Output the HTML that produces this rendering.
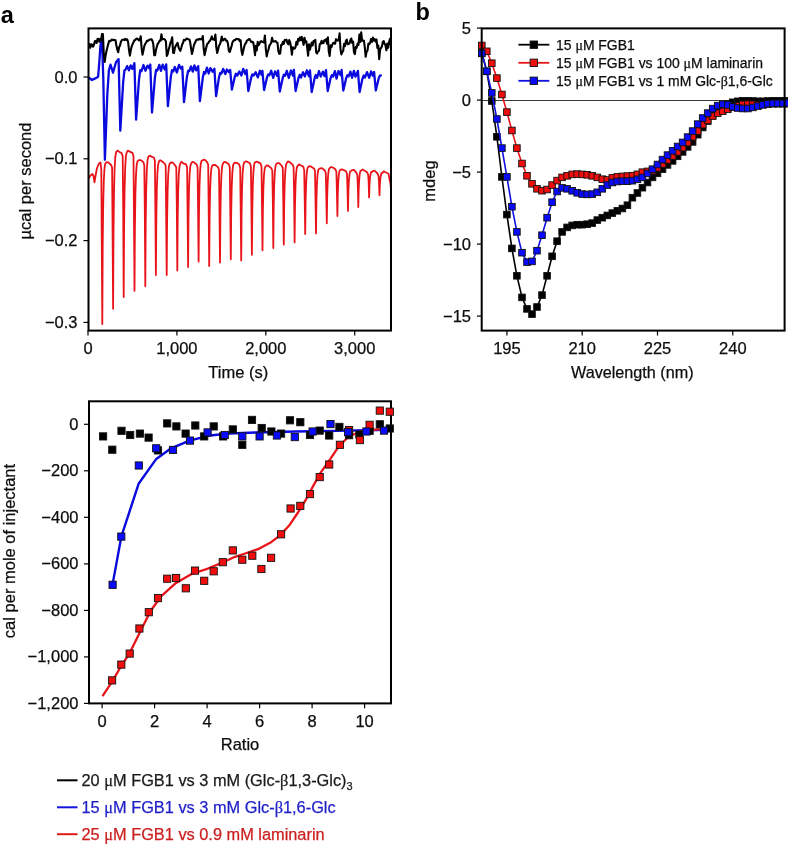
<!DOCTYPE html><html><head><meta charset="utf-8"><style>html,body{margin:0;padding:0;background:#fff;width:788px;height:844px;overflow:hidden}svg{display:block;will-change:transform;filter:blur(0.35px)}text{font-family:"Liberation Sans", sans-serif;fill:#0d0d0d;stroke:#0d0d0d;stroke-width:0.25px}</style></head><body>
<svg width="788" height="844" viewBox="0 0 788 844">
<rect width="788" height="844" fill="#fff"/>
<text x="0.8" y="22.6" font-size="23.5" font-weight="bold" style="fill:#000;stroke:none">a</text>
<text x="415.6" y="19.9" font-size="23.5" font-weight="bold" style="fill:#000;stroke:none">b</text>
<defs><clipPath id="ca"><rect x="88" y="28" width="303.5" height="303"/></clipPath></defs>
<g clip-path="url(#ca)" fill="none" stroke-linejoin="round" stroke-linecap="round">
<polyline points="88.5,178.5 90.5,175.5 92.5,174 93.5,176 94.5,182.3 95.5,176 97,168 99,163.5 100.5,162.5 101.3,170 102.3,324 102.7,246.5 103.2,204.5 103.8,180.3 104.5,168.2 105.3,163.5 106.6,162.1 108.3,162.4 111.1,165 112.1,167.5 112.5,221 113.1,308.8 113.5,233.2 114,192.2 114.6,168.6 115.3,156.8 116.1,152.3 117.4,150.6 119.1,151.7 121.7,153.3 122.7,156.3 123.2,209.6 123.7,297 124.1,227.1 124.6,189.2 125.2,167.3 125.9,156.4 126.7,152.3 128,150.6 129.7,151.7 132.5,152.9 133.5,156.3 133.9,207.1 134.5,290.8 134.9,228.2 135.4,194.2 136,174.7 136.7,164.9 137.5,161.3 138.8,160.1 140.5,160.1 143.3,161.9 144.3,165.3 144.8,210.7 145.3,286.3 145.7,223.7 146.2,189.7 146.8,170.2 147.5,160.4 148.3,156.8 149.6,155.6 151.3,156.6 153.9,157.5 154.9,160.8 155.3,203.5 155.9,275 156.3,220.1 156.8,190.4 157.4,173.3 158.1,164.7 158.9,161.7 160.2,160.2 161.9,161.2 164.7,163.6 165.7,165.7 166.1,206.4 166.7,275 167.1,221 167.6,191.8 168.2,174.9 168.9,166.4 169.7,163.5 171,162.5 172.7,162.7 175.3,165.5 176.3,167.5 176.8,205.7 177.3,270.5 177.7,218.7 178.2,190.6 178.8,174.4 179.5,166.3 180.3,163.5 181.6,161.8 183.3,163.3 186.1,164.4 187.1,167.5 187.5,204.3 188.1,267.1 188.5,216.9 189,189.7 189.6,174 190.3,166.2 191.1,163.5 192.4,161.9 194.1,162.4 196.6,164.5 197.6,167.5 198,202.1 198.6,261.5 199,212.7 199.5,186.2 200.1,171 200.8,163.4 201.6,160.8 202.9,160.1 204.6,159.7 207.2,162.2 208.2,164.8 208.6,202.3 209.2,266 209.6,217.4 210.1,191.1 210.7,175.9 211.4,168.3 212.2,165.8 213.5,164.8 215.2,165 218,167.1 219,169.8 219.4,203.9 220,262.6 220.4,214.6 220.9,188.5 221.5,173.5 222.2,166 223,163.5 224.3,161.8 226,162.3 228.8,164.3 229.8,167.5 230.2,201.2 230.8,259.3 231.2,212.8 231.7,187.7 232.3,173.1 233,165.9 233.8,163.5 235.1,162.6 236.8,162.8 239.2,164.5 240.2,167.5 240.6,201.7 241.2,260.4 241.6,212.9 242.1,187.1 242.7,172.3 243.4,164.9 244.2,162.4 245.5,161.4 247.2,161.7 249.9,163.3 250.9,166.4 251.3,198.8 251.9,254.8 252.3,210 252.8,185.8 253.4,171.8 254.1,164.8 254.9,162.5 256.2,161.7 257.9,162.1 260.5,163.4 261.5,166.5 261.9,197 262.5,250.3 262.9,209.6 263.4,187.5 264,174.8 264.7,168.5 265.5,166.5 266.8,165.4 268.5,165.9 271.3,168.3 272.3,170.5 272.8,198.5 273.3,248 273.7,207.2 274.2,185.1 274.8,172.3 275.5,166 276.3,164 277.6,163.1 279.3,163.1 281.8,166 282.8,168 283.2,195.6 283.8,244.6 284.2,205 284.7,183.5 285.3,171.1 286,164.9 286.8,163 288.1,161.4 289.8,162.2 292.6,164.6 293.6,167 294.1,194.2 294.6,242.4 295,205.2 295.5,185.1 296.1,173.5 296.8,167.7 297.6,166 298.9,164.4 300.6,165.3 303.2,166.6 304.2,170 304.6,192.6 305.2,234.1 305.6,201.4 306.1,183.7 306.7,173.5 307.4,168.4 308.2,167 309.5,166.1 311.2,166.7 314,168.4 315,171 315.4,193 316,233.4 316.4,202 316.9,185 317.5,175.2 318.2,170.3 319,169 320.3,168.3 322,168.1 324.8,170.5 325.8,173 326.2,190.1 326.8,223.3 327.2,196.3 327.7,181.6 328.3,173.2 329,169 329.8,168 331.1,167 332.8,167.5 335.4,169.2 336.4,172 336.8,186.6 337.4,216.1 337.8,193.5 338.3,181.2 338.9,174.2 339.6,170.6 340.4,170 341.7,169.3 343.4,169.9 346,171.2 347,174 347.4,185.8 348,210.9 348.4,191.3 348.9,180.6 349.5,174.5 350.2,171.4 351,171 352.3,170.1 354,169.8 356.3,172.6 357.3,175 357.8,184.8 358.3,207.1 358.7,189.1 359.2,179.3 359.8,173.6 360.5,170.8 361.3,170.5 362.6,169.5 364.3,170.5 367.1,172.2 368.1,174.5 368.6,180.7 369.1,197.4 369.5,184.7 370,177.9 370.6,173.9 371.3,171.9 372.1,172 373.4,170.6 375.1,171.2 377.5,173.5 378.5,176 378.9,180.6 379.5,195.1 379.9,184 380.4,178 381,174.5 381.7,172.8 382.5,173 383.8,171.2 385.5,172.3 388.5,173.8 390.5,184 391,190" stroke="#e8141a" stroke-width="1.8"/>
<polyline points="88.5,77.4 90,78.5 92,80 95.2,78.4 98.1,76.8 99.3,62.3 100.4,46.1 101.2,41.5 102,40.5 103.3,78.4 104.9,159.8 107.3,94.5 108.9,70.3 110.5,64.7 113,72.7 116,62.3 118.6,59.1 120.3,130.6 121.8,105.6 123.2,81.8 124.4,70.5 125.6,69.6 127.2,66.1 128.9,70.4 130.7,65.4 132.4,68.9 134.4,63.2 136.1,119.6 137.6,99 139,79.4 140.2,70.1 141.4,71.3 143.5,65 145.4,70.7 147.5,65.6 149.2,68.2 150.3,64.5 152,112.5 153.5,94.7 154.9,77.8 156.1,69.8 157.3,70.5 159.3,64.9 160.9,70.8 162.7,64.7 164.8,69.5 166.2,64.3 167.9,106.2 169.4,91.1 170.8,76.9 172,70.1 173.2,71.5 174.8,67 176.9,72.5 179,64.8 180.8,68.6 182.3,66.6 184,102.2 185.5,89.2 186.9,76.9 188.1,71 189.3,71.2 191,66.4 192.8,71.6 194.4,65.4 196.1,70.4 198.2,66.1 199.9,101.1 201.4,89 202.8,77.5 204,72 205.2,73.6 206.9,67.7 208.7,73.5 210.4,68.2 212.6,71.7 214.4,68.8 216.1,96.1 217.6,86.4 219,77.3 220.2,72.9 221.4,73.5 223.2,68.9 225.3,74.1 226.9,69.5 228.8,72.1 230.2,70 231.9,89.6 233.4,83 234.8,76.7 236,73.7 237.2,75.6 239.4,71.4 241.4,75.5 243.2,68.8 245.3,74.1 246.6,70 248.3,91 249.8,84.1 251.2,77.5 252.4,74.4 253.6,75.5 255.7,72.3 257.8,77.4 259.9,70.8 261.6,74.7 262.4,70.8 264.1,90 265.6,83.5 267,77.4 268.2,74.5 269.4,75.2 271.2,70.8 273.2,77.9 275.1,71.4 277.2,75.9 278.1,70.6 279.8,91.5 281.3,84.5 282.7,77.9 283.9,74.7 285.1,75.8 286.8,70.8 288.8,78 290.9,70.5 292.9,75.7 293.9,69.8 295.6,91 297.1,84.3 298.5,77.9 299.7,74.8 300.9,77.6 303,72.3 304.9,76.4 306.9,70.3 309,76.3 310,70.5 311.7,92 313.2,84.9 314.6,78.2 315.8,75 317,77.9 319,71 320.7,76.5 322.9,71.6 324.5,76.1 326,70.2 327.7,91 329.2,84.4 330.6,78.1 331.8,75.1 333,76.6 334.9,71.1 336.5,78.6 338.5,71 340.7,75.3 341.6,70 343.3,90.5 344.8,84.2 346.2,78.1 347.4,75.3 348.6,76.4 350.4,71.6 352.1,77.8 353.9,70.9 355.5,76.6 357.9,70.9 359.6,92 361.1,85.1 362.5,78.6 363.7,75.5 364.9,77.5 367,72.1 369.2,77.8 371.1,71.4 372.7,75.7 374.1,72 375.8,90.5 377.3,84.3 378.7,78.4 379.9,75.6 380.8,75.5" stroke="#0a0adf" stroke-width="2.3"/>
<polyline points="88.5,44.7 89.4,44 90.3,47.7 91.2,44.2 92.1,44.6 93,46.7 93.9,45.1 94.8,41.2 95.7,40.9 96.6,43 97.5,39 98.4,38.9 99.3,41.8 100.2,38.9 101.1,40.4 102,34 102.9,34 103.8,54.1 104.7,61.9 105.6,55.5 106.5,50.9 107.4,47.2 108.3,43.9 109.2,40.8 110.1,41.3 111,40.7 111.9,39.5 112.8,40.2 113.7,39.7 114.6,39.9 115.5,40.3 116.4,45.5 117.3,49.6 118.2,52.2 119.1,47.2 120,45.5 120.9,41.8 121.8,40.2 122.7,39.7 123.6,39.5 124.5,40.1 125.4,38.9 126.3,40 127.2,39.4 128.1,42 129,49.8 129.9,55.6 130.8,50.2 131.7,46.3 132.6,44.1 133.5,42.2 134.4,40.3 135.3,40 136.2,38.8 137.1,38.5 138,39.2 138.9,40.4 139.8,40.3 140.7,36.2 141.6,48.2 142.5,54.7 143.4,50.6 144.3,46.2 145.2,43.9 146.1,42.7 147,40.7 147.9,40.9 148.8,40.2 149.7,39.7 150.6,39.3 151.5,39.2 152.4,40.8 153.3,44.2 154.2,55.1 155.1,55.2 156,49.8 156.9,46.4 157.8,43.6 158.7,42.7 159.6,40.6 160.5,40.8 161.4,34.3 162.3,39.4 163.2,39 164.1,39 165,39.6 165.9,41.5 166.8,55.9 167.7,54 168.6,49.8 169.5,46.6 170.4,42.9 171.3,40.8 172.2,37.2 173.1,52.7 174,52.9 174.9,47.9 175.8,45.7 176.7,44.4 177.6,42.9 178.5,47.2 179.4,49.3 180.3,50.8 181.2,48.1 182.1,44.7 183,42.7 183.9,39.9 184.8,40.5 185.7,39.6 186.6,38.5 187.5,38.9 188.4,39.2 189.3,39.4 190.2,42.3 191.1,48.9 192,54 192.9,50.1 193.8,45.6 194.7,43.3 195.6,41.5 196.5,39.7 197.4,39.4 198.3,39.8 199.2,38.9 200.1,39.4 201,38.9 201.9,39.5 202.8,36.1 203.7,48.7 204.6,55.1 205.5,50.7 206.4,46.9 207.3,43.8 208.2,43.2 209.1,41.5 210,40.8 210.9,39 211.8,36.4 212.7,39.5 213.6,39.3 214.5,39.8 215.4,34.5 216.3,47.3 217.2,53 218.1,49.8 219,45.6 219.9,44.4 220.8,41.4 221.7,36.6 222.6,40.5 223.5,40.3 224.4,38.9 225.3,38.9 226.2,40.7 227.1,40.8 228,43.9 228.9,51 229.8,51.9 230.7,48.9 231.6,46 232.5,42.3 233.4,40.8 234.3,40.1 235.2,40.2 236.1,38.9 237,39 237.9,39.3 238.8,39.1 239.7,41 240.6,40.2 241.5,50.7 242.4,54.9 243.3,50.6 244.2,46.7 245.1,44 246,43 246.9,40.7 247.8,40.1 248.7,39.3 249.6,39 250.5,40.8 251.4,42.1 252.3,41.7 253.2,42.3 254.1,47.3 255,55.2 255.9,45.9 256.8,50.5 257.7,41.9 258.6,45.3 259.5,43.7 260.4,41.6 261.3,41 262.2,41.9 263.1,42.1 264,42.5 264.9,35.5 265.8,48.8 266.7,56.5 267.6,52.1 268.5,49.5 269.4,45.6 270.3,44.3 271.2,42.7 272.1,37.7 273,41.4 273.9,41.6 274.8,41.3 275.7,41.1 276.6,42.3 277.5,42.9 278.4,51.5 279.3,53.9 280.2,53.5 281.1,45 282,44.9 282.9,41.8 283.8,43.9 284.7,40 285.6,40.3 286.5,39.7 287.4,42.9 288.3,44.3 289.2,40.1 290.1,41.9 291,47.2 291.9,54.6 292.8,47.2 293.7,48.5 294.6,48.6 295.5,47.2 296.4,41.8 297.3,44.6 298.2,38.7 299.1,40.6 300,37.4 300.9,40.3 301.8,36.9 302.7,40.7 303.6,44.9 304.5,37.7 305.4,42.1 306.3,41.3 307.2,47.3 308.1,55.6 309,44.2 309.9,49.7 310.8,46.4 311.7,42.5 312.6,45.5 313.5,41 314.4,41.4 315.3,39.8 316.2,52.4 317.1,53.5 318,51.4 318.9,50.9 319.8,44.1 320.7,43.8 321.6,40.7 322.5,43.3 323.4,43.1 324.3,40.3 325.2,40.6 326.1,39.2 327,43.6 327.9,37.2 328.8,51.8 329.7,56 330.6,45.2 331.5,47.1 332.4,44.5 333.3,42.8 334.2,43.3 335.1,43.7 336,39.1 336.9,40.1 337.8,40.7 338.7,39.9 339.6,33.2 340.5,49.1 341.4,54.4 342.3,52.3 343.2,50.7 344.1,43.7 345,46.1 345.9,40.9 346.8,39.7 347.7,44.3 348.6,43.9 349.5,43.5 350.4,40 351.3,38.5 352.2,42.9 353.1,41.6 354,52.3 354.9,54.1 355.8,46.8 356.7,47.8 357.6,43.5 358.5,44.9 359.4,34.5 360.3,41.9 361.2,32.4 362.1,40.8 363,40.4 363.9,40.7 364.8,47.4 365.7,56.8 366.6,51.5 367.5,50.7 368.4,43.6 369.3,44.1 370.2,42.6 371.1,38.9 372,41.9 372.9,37.6 373.8,40.4 374.7,39.1 375.6,41.6 376.5,39.5 377.4,47.9 378.3,45.5 379.2,59.2 380.1,49.6 381,47.9 381.9,46.6 382.8,41.9 383.7,41 384.6,43.9 385.5,45.2 386.4,50.3 387.3,43.6 388.2,47.8 389.1,42.3 390,38.7 390.5,44" stroke="#000" stroke-width="2.1"/>
</g>
<rect x="88.5" y="28.4" width="302.5" height="302.20000000000005" fill="none" stroke="#000" stroke-width="2"/>
<line x1="83.5" x2="88.5" y1="77" y2="77" stroke="#000" stroke-width="1.2"/>
<text x="77.5" y="82.5" font-size="16.5" text-anchor="end">0.0</text>
<line x1="83.5" x2="88.5" y1="158.8" y2="158.8" stroke="#000" stroke-width="1.2"/>
<text x="77.5" y="164.3" font-size="16.5" text-anchor="end">−0.1</text>
<line x1="83.5" x2="88.5" y1="240.6" y2="240.6" stroke="#000" stroke-width="1.2"/>
<text x="77.5" y="246.1" font-size="16.5" text-anchor="end">−0.2</text>
<line x1="83.5" x2="88.5" y1="322.4" y2="322.4" stroke="#000" stroke-width="1.2"/>
<text x="77.5" y="327.9" font-size="16.5" text-anchor="end">−0.3</text>
<line x1="88" x2="88" y1="330.6" y2="335.5" stroke="#000" stroke-width="1.2"/>
<text x="88" y="353.5" font-size="16.5" text-anchor="middle">0</text>
<line x1="176.9" x2="176.9" y1="330.6" y2="335.5" stroke="#000" stroke-width="1.2"/>
<text x="176.9" y="353.5" font-size="16.5" text-anchor="middle">1,000</text>
<line x1="265.8" x2="265.8" y1="330.6" y2="335.5" stroke="#000" stroke-width="1.2"/>
<text x="265.8" y="353.5" font-size="16.5" text-anchor="middle">2,000</text>
<line x1="354.7" x2="354.7" y1="330.6" y2="335.5" stroke="#000" stroke-width="1.2"/>
<text x="354.7" y="353.5" font-size="16.5" text-anchor="middle">3,000</text>
<text x="238.3" y="378.4" font-size="16.5" text-anchor="middle">Time (s)</text>
<text transform="translate(31.3,181) rotate(-90)" font-size="16.5" text-anchor="middle">µcal per second</text>
<g fill="none" stroke-linejoin="round" stroke-linecap="round">
<path d="M112.5,584.9 L121.3,536.7 L138.6,483.8 L156.3,458.9 L171.1,448.3 L189.5,440.6 L209.8,435.5 L230.1,433.5 L255.3,432.5 L295.9,431.5 L336.5,430.9 L377.1,430 L391.3,429.4" stroke="#0a0adf" stroke-width="2.4"/>
<path d="M103,695.3 L112.5,681.1 L120.7,666.7 L128.9,654.4 L139.8,632.6 L150.7,610.8 L161.6,595.8 L175.2,583.6 L191.6,574 L207.9,568.6 L224.3,561.8 L235,556.8 L245.2,553.5 L259.4,548.6 L271.5,541.9 L280.7,534.8 L289.8,524.7 L298,512.5 L306.1,499.3 L314.2,484.1 L320.3,473.1 L330.4,458.9 L338.6,446.7 L348.7,436.5 L360.9,431.5 L377.1,429.4 L391.3,428.4" stroke="#e8141a" stroke-width="2.3"/>
</g>
<rect x="89.0" y="401.3" width="302.0" height="302.09999999999997" fill="none" stroke="#000" stroke-width="2"/>
<rect x="99.5" y="432.8" width="7.2" height="7.2" fill="#000" stroke="#111" stroke-width="0.9"/>
<rect x="108.7" y="446.1" width="7.2" height="7.2" fill="#000" stroke="#111" stroke-width="0.9"/>
<rect x="117.9" y="427.2" width="7.2" height="7.2" fill="#000" stroke="#111" stroke-width="0.9"/>
<rect x="126.6" y="431.4" width="7.2" height="7.2" fill="#000" stroke="#111" stroke-width="0.9"/>
<rect x="136.3" y="430" width="7.2" height="7.2" fill="#000" stroke="#111" stroke-width="0.9"/>
<rect x="145" y="434" width="7.2" height="7.2" fill="#000" stroke="#111" stroke-width="0.9"/>
<rect x="154.4" y="446.8" width="7.2" height="7.2" fill="#000" stroke="#111" stroke-width="0.9"/>
<rect x="163.6" y="419.8" width="7.2" height="7.2" fill="#000" stroke="#111" stroke-width="0.9"/>
<rect x="172.8" y="422.8" width="7.2" height="7.2" fill="#000" stroke="#111" stroke-width="0.9"/>
<rect x="182" y="430" width="7.2" height="7.2" fill="#000" stroke="#111" stroke-width="0.9"/>
<rect x="191.7" y="421.9" width="7.2" height="7.2" fill="#000" stroke="#111" stroke-width="0.9"/>
<rect x="200.6" y="432.8" width="7.2" height="7.2" fill="#000" stroke="#111" stroke-width="0.9"/>
<rect x="210.1" y="422.8" width="7.2" height="7.2" fill="#000" stroke="#111" stroke-width="0.9"/>
<rect x="219.5" y="432.8" width="7.2" height="7.2" fill="#000" stroke="#111" stroke-width="0.9"/>
<rect x="229.2" y="425.8" width="7.2" height="7.2" fill="#000" stroke="#111" stroke-width="0.9"/>
<rect x="238.7" y="441.2" width="7.2" height="7.2" fill="#000" stroke="#111" stroke-width="0.9"/>
<rect x="248.4" y="416.3" width="7.2" height="7.2" fill="#000" stroke="#111" stroke-width="0.9"/>
<rect x="258.1" y="424.4" width="7.2" height="7.2" fill="#000" stroke="#111" stroke-width="0.9"/>
<rect x="267.8" y="427.9" width="7.2" height="7.2" fill="#000" stroke="#111" stroke-width="0.9"/>
<rect x="277.5" y="430" width="7.2" height="7.2" fill="#000" stroke="#111" stroke-width="0.9"/>
<rect x="286.4" y="416.7" width="7.2" height="7.2" fill="#000" stroke="#111" stroke-width="0.9"/>
<rect x="296.7" y="418.6" width="7.2" height="7.2" fill="#000" stroke="#111" stroke-width="0.9"/>
<rect x="306.4" y="431.4" width="7.2" height="7.2" fill="#000" stroke="#111" stroke-width="0.9"/>
<rect x="316.1" y="427" width="7.2" height="7.2" fill="#000" stroke="#111" stroke-width="0.9"/>
<rect x="325.6" y="431.9" width="7.2" height="7.2" fill="#000" stroke="#111" stroke-width="0.9"/>
<rect x="335.8" y="423.3" width="7.2" height="7.2" fill="#000" stroke="#111" stroke-width="0.9"/>
<rect x="345.5" y="431.6" width="7.2" height="7.2" fill="#000" stroke="#111" stroke-width="0.9"/>
<rect x="355.8" y="430.9" width="7.2" height="7.2" fill="#000" stroke="#111" stroke-width="0.9"/>
<rect x="366" y="427.2" width="7.2" height="7.2" fill="#000" stroke="#111" stroke-width="0.9"/>
<rect x="376.2" y="420.7" width="7.2" height="7.2" fill="#000" stroke="#111" stroke-width="0.9"/>
<rect x="386.2" y="424.9" width="7.2" height="7.2" fill="#000" stroke="#111" stroke-width="0.9"/>
<rect x="108.5" y="676.8" width="7.2" height="7.2" fill="#f00d0d" stroke="#111" stroke-width="0.9"/>
<rect x="117.7" y="661" width="7.2" height="7.2" fill="#f00d0d" stroke="#111" stroke-width="0.9"/>
<rect x="126.1" y="650" width="7.2" height="7.2" fill="#f00d0d" stroke="#111" stroke-width="0.9"/>
<rect x="135.8" y="624.9" width="7.2" height="7.2" fill="#f00d0d" stroke="#111" stroke-width="0.9"/>
<rect x="145.2" y="608.6" width="7.2" height="7.2" fill="#f00d0d" stroke="#111" stroke-width="0.9"/>
<rect x="154.4" y="594.5" width="7.2" height="7.2" fill="#f00d0d" stroke="#111" stroke-width="0.9"/>
<rect x="163.6" y="575.1" width="7.2" height="7.2" fill="#f00d0d" stroke="#111" stroke-width="0.9"/>
<rect x="172.5" y="574.4" width="7.2" height="7.2" fill="#f00d0d" stroke="#111" stroke-width="0.9"/>
<rect x="182.2" y="584.7" width="7.2" height="7.2" fill="#f00d0d" stroke="#111" stroke-width="0.9"/>
<rect x="191.4" y="567" width="7.2" height="7.2" fill="#f00d0d" stroke="#111" stroke-width="0.9"/>
<rect x="200.6" y="577.2" width="7.2" height="7.2" fill="#f00d0d" stroke="#111" stroke-width="0.9"/>
<rect x="210.1" y="567.7" width="7.2" height="7.2" fill="#f00d0d" stroke="#111" stroke-width="0.9"/>
<rect x="219.2" y="558.6" width="7.2" height="7.2" fill="#f00d0d" stroke="#111" stroke-width="0.9"/>
<rect x="229.2" y="546.8" width="7.2" height="7.2" fill="#f00d0d" stroke="#111" stroke-width="0.9"/>
<rect x="238.7" y="556.1" width="7.2" height="7.2" fill="#f00d0d" stroke="#111" stroke-width="0.9"/>
<rect x="248.7" y="552.1" width="7.2" height="7.2" fill="#f00d0d" stroke="#111" stroke-width="0.9"/>
<rect x="257.8" y="565.4" width="7.2" height="7.2" fill="#f00d0d" stroke="#111" stroke-width="0.9"/>
<rect x="267.5" y="554.2" width="7.2" height="7.2" fill="#f00d0d" stroke="#111" stroke-width="0.9"/>
<rect x="277.5" y="530.7" width="7.2" height="7.2" fill="#f00d0d" stroke="#111" stroke-width="0.9"/>
<rect x="287" y="504.9" width="7.2" height="7.2" fill="#f00d0d" stroke="#111" stroke-width="0.9"/>
<rect x="296.7" y="502.3" width="7.2" height="7.2" fill="#f00d0d" stroke="#111" stroke-width="0.9"/>
<rect x="306.4" y="490.5" width="7.2" height="7.2" fill="#f00d0d" stroke="#111" stroke-width="0.9"/>
<rect x="316.1" y="473.5" width="7.2" height="7.2" fill="#f00d0d" stroke="#111" stroke-width="0.9"/>
<rect x="325.6" y="460.9" width="7.2" height="7.2" fill="#f00d0d" stroke="#111" stroke-width="0.9"/>
<rect x="336.3" y="441.2" width="7.2" height="7.2" fill="#f00d0d" stroke="#111" stroke-width="0.9"/>
<rect x="345.5" y="426.5" width="7.2" height="7.2" fill="#f00d0d" stroke="#111" stroke-width="0.9"/>
<rect x="356.3" y="436.5" width="7.2" height="7.2" fill="#f00d0d" stroke="#111" stroke-width="0.9"/>
<rect x="366" y="421.2" width="7.2" height="7.2" fill="#f00d0d" stroke="#111" stroke-width="0.9"/>
<rect x="376.2" y="407" width="7.2" height="7.2" fill="#f00d0d" stroke="#111" stroke-width="0.9"/>
<rect x="386.2" y="408.1" width="7.2" height="7.2" fill="#f00d0d" stroke="#111" stroke-width="0.9"/>
<rect x="109" y="581.2" width="7.2" height="7.2" fill="#0a0aff" stroke="#111" stroke-width="0.9"/>
<rect x="117.7" y="533" width="7.2" height="7.2" fill="#0a0aff" stroke="#111" stroke-width="0.9"/>
<rect x="135.2" y="461.9" width="7.2" height="7.2" fill="#0a0aff" stroke="#111" stroke-width="0.9"/>
<rect x="152.6" y="444.7" width="7.2" height="7.2" fill="#0a0aff" stroke="#111" stroke-width="0.9"/>
<rect x="169.4" y="446.3" width="7.2" height="7.2" fill="#0a0aff" stroke="#111" stroke-width="0.9"/>
<rect x="186.4" y="437" width="7.2" height="7.2" fill="#0a0aff" stroke="#111" stroke-width="0.9"/>
<rect x="204" y="428.8" width="7.2" height="7.2" fill="#0a0aff" stroke="#111" stroke-width="0.9"/>
<rect x="221.1" y="431.4" width="7.2" height="7.2" fill="#0a0aff" stroke="#111" stroke-width="0.9"/>
<rect x="238.7" y="432.8" width="7.2" height="7.2" fill="#0a0aff" stroke="#111" stroke-width="0.9"/>
<rect x="256" y="432.8" width="7.2" height="7.2" fill="#0a0aff" stroke="#111" stroke-width="0.9"/>
<rect x="273.3" y="431.9" width="7.2" height="7.2" fill="#0a0aff" stroke="#111" stroke-width="0.9"/>
<rect x="291.2" y="433.5" width="7.2" height="7.2" fill="#0a0aff" stroke="#111" stroke-width="0.9"/>
<rect x="309" y="427.9" width="7.2" height="7.2" fill="#0a0aff" stroke="#111" stroke-width="0.9"/>
<rect x="326.9" y="420.5" width="7.2" height="7.2" fill="#0a0aff" stroke="#111" stroke-width="0.9"/>
<rect x="344.5" y="428.6" width="7.2" height="7.2" fill="#0a0aff" stroke="#111" stroke-width="0.9"/>
<rect x="362.8" y="427.9" width="7.2" height="7.2" fill="#0a0aff" stroke="#111" stroke-width="0.9"/>
<rect x="380.4" y="427" width="7.2" height="7.2" fill="#0a0aff" stroke="#111" stroke-width="0.9"/>
<line x1="84" x2="89" y1="424.3" y2="424.3" stroke="#000" stroke-width="1.2"/>
<text x="78.5" y="429.8" font-size="16.5" text-anchor="end">0</text>
<line x1="84" x2="89" y1="470.8" y2="470.8" stroke="#000" stroke-width="1.2"/>
<text x="78.5" y="476.3" font-size="16.5" text-anchor="end">−200</text>
<line x1="84" x2="89" y1="517.3" y2="517.3" stroke="#000" stroke-width="1.2"/>
<text x="78.5" y="522.8" font-size="16.5" text-anchor="end">−400</text>
<line x1="84" x2="89" y1="563.9" y2="563.9" stroke="#000" stroke-width="1.2"/>
<text x="78.5" y="569.4" font-size="16.5" text-anchor="end">−600</text>
<line x1="84" x2="89" y1="610.4" y2="610.4" stroke="#000" stroke-width="1.2"/>
<text x="78.5" y="615.9" font-size="16.5" text-anchor="end">−800</text>
<line x1="84" x2="89" y1="656.9" y2="656.9" stroke="#000" stroke-width="1.2"/>
<text x="78.5" y="662.4" font-size="16.5" text-anchor="end">−1,000</text>
<line x1="84" x2="89" y1="703.4" y2="703.4" stroke="#000" stroke-width="1.2"/>
<text x="78.5" y="708.9" font-size="16.5" text-anchor="end">−1,200</text>
<line x1="102.1" x2="102.1" y1="703.4" y2="708.3" stroke="#000" stroke-width="1.2"/>
<text x="102.1" y="726.5" font-size="16.5" text-anchor="middle">0</text>
<line x1="154.6" x2="154.6" y1="703.4" y2="708.3" stroke="#000" stroke-width="1.2"/>
<text x="154.6" y="726.5" font-size="16.5" text-anchor="middle">2</text>
<line x1="207.1" x2="207.1" y1="703.4" y2="708.3" stroke="#000" stroke-width="1.2"/>
<text x="207.1" y="726.5" font-size="16.5" text-anchor="middle">4</text>
<line x1="259.6" x2="259.6" y1="703.4" y2="708.3" stroke="#000" stroke-width="1.2"/>
<text x="259.6" y="726.5" font-size="16.5" text-anchor="middle">6</text>
<line x1="312.1" x2="312.1" y1="703.4" y2="708.3" stroke="#000" stroke-width="1.2"/>
<text x="312.1" y="726.5" font-size="16.5" text-anchor="middle">8</text>
<line x1="364.6" x2="364.6" y1="703.4" y2="708.3" stroke="#000" stroke-width="1.2"/>
<text x="364.6" y="726.5" font-size="16.5" text-anchor="middle">10</text>
<text x="240" y="750.3" font-size="16.5" text-anchor="middle">Ratio</text>
<text transform="translate(15,551) rotate(-90)" font-size="16.5" text-anchor="middle">cal per mole of injectant</text>
<line x1="57" x2="77.5" y1="780.3" y2="780.3" stroke="#000" stroke-width="2"/>
<text x="81.5" y="785.6" font-size="16.35" style="fill:#1a1a1a;stroke:#1a1a1a">20 <tspan style="font-family:'Liberation Serif',serif">μ</tspan>M FGB1 vs 3 mM (Glc-<tspan style="font-family:'Liberation Serif',serif">β</tspan>1,3-Glc)<tspan font-size="11" dy="4">3</tspan></text>
<line x1="57" x2="77.5" y1="807.3" y2="807.3" stroke="#1515e0" stroke-width="2"/>
<text x="81.5" y="812.6" font-size="16.35" style="fill:#1f1fc8;stroke:#1f1fc8">15 <tspan style="font-family:'Liberation Serif',serif">μ</tspan>M FGB1 vs 3 mM Glc-<tspan style="font-family:'Liberation Serif',serif">β</tspan>1,6-Glc</text>
<line x1="57" x2="77.5" y1="834.2" y2="834.2" stroke="#e01a1a" stroke-width="2"/>
<text x="81.5" y="839.5" font-size="16.35" style="fill:#cc2020;stroke:#cc2020">25 <tspan style="font-family:'Liberation Serif',serif">μ</tspan>M FGB1 vs 0.9 mM laminarin</text>
<line x1="482" x2="785" y1="100.5" y2="100.5" stroke="#3a3a3a" stroke-width="1.2"/>
<defs><clipPath id="cb"><rect x="470" y="20" width="318" height="312"/></clipPath></defs>
<g clip-path="url(#cb)">
<polyline points="481.8,52.6 486.8,71.3 491.8,101 496.9,136.8 501.9,176.9 506.9,214.6 511.9,248.4 516.9,275.8 522,297.4 527,308.9 532,314.1 537,307 542,295.1 547.1,275.8 552.1,256.3 557.1,241.2 562.1,231.9 567.1,227.4 572.2,225.4 577.2,224.7 582.2,224.7 587.2,224.2 592.2,223.1 597.3,220.1 602.3,217.7 607.3,215.4 612.3,213.1 617.3,210.8 622.4,208.5 627.4,205.2 632.4,197.7 637.4,193 642.4,187.7 647.5,182.5 652.5,177.4 657.5,173.3 662.5,169.2 667.5,164.9 672.6,160.9 677.6,156.3 682.6,151.9 687.6,146.9 692.6,141.9 697.7,134.7 702.7,127.5 707.7,121 712.7,115.2 717.7,110.2 722.8,106.6 727.8,104.1 732.8,102.3 737.8,101.3 742.8,100.8 747.9,100.8 752.9,101 757.9,101.3 762.9,101.3 767.9,101 773,100.8 778,100.8 783,100.8 788,100.8" fill="none" stroke="#000" stroke-width="1.6" stroke-linejoin="round"/>
<rect x="478.5" y="49.3" width="6.6" height="6.6" fill="#000" stroke="#111" stroke-width="0.9"/>
<rect x="483.5" y="68" width="6.6" height="6.6" fill="#000" stroke="#111" stroke-width="0.9"/>
<rect x="488.5" y="97.7" width="6.6" height="6.6" fill="#000" stroke="#111" stroke-width="0.9"/>
<rect x="493.6" y="133.5" width="6.6" height="6.6" fill="#000" stroke="#111" stroke-width="0.9"/>
<rect x="498.6" y="173.6" width="6.6" height="6.6" fill="#000" stroke="#111" stroke-width="0.9"/>
<rect x="503.6" y="211.3" width="6.6" height="6.6" fill="#000" stroke="#111" stroke-width="0.9"/>
<rect x="508.6" y="245.1" width="6.6" height="6.6" fill="#000" stroke="#111" stroke-width="0.9"/>
<rect x="513.6" y="272.5" width="6.6" height="6.6" fill="#000" stroke="#111" stroke-width="0.9"/>
<rect x="518.7" y="294.1" width="6.6" height="6.6" fill="#000" stroke="#111" stroke-width="0.9"/>
<rect x="523.7" y="305.6" width="6.6" height="6.6" fill="#000" stroke="#111" stroke-width="0.9"/>
<rect x="528.7" y="310.8" width="6.6" height="6.6" fill="#000" stroke="#111" stroke-width="0.9"/>
<rect x="533.7" y="303.7" width="6.6" height="6.6" fill="#000" stroke="#111" stroke-width="0.9"/>
<rect x="538.7" y="291.8" width="6.6" height="6.6" fill="#000" stroke="#111" stroke-width="0.9"/>
<rect x="543.8" y="272.5" width="6.6" height="6.6" fill="#000" stroke="#111" stroke-width="0.9"/>
<rect x="548.8" y="253" width="6.6" height="6.6" fill="#000" stroke="#111" stroke-width="0.9"/>
<rect x="553.8" y="237.9" width="6.6" height="6.6" fill="#000" stroke="#111" stroke-width="0.9"/>
<rect x="558.8" y="228.6" width="6.6" height="6.6" fill="#000" stroke="#111" stroke-width="0.9"/>
<rect x="563.8" y="224.1" width="6.6" height="6.6" fill="#000" stroke="#111" stroke-width="0.9"/>
<rect x="568.9" y="222.1" width="6.6" height="6.6" fill="#000" stroke="#111" stroke-width="0.9"/>
<rect x="573.9" y="221.4" width="6.6" height="6.6" fill="#000" stroke="#111" stroke-width="0.9"/>
<rect x="578.9" y="221.4" width="6.6" height="6.6" fill="#000" stroke="#111" stroke-width="0.9"/>
<rect x="583.9" y="220.9" width="6.6" height="6.6" fill="#000" stroke="#111" stroke-width="0.9"/>
<rect x="588.9" y="219.8" width="6.6" height="6.6" fill="#000" stroke="#111" stroke-width="0.9"/>
<rect x="594" y="216.8" width="6.6" height="6.6" fill="#000" stroke="#111" stroke-width="0.9"/>
<rect x="599" y="214.4" width="6.6" height="6.6" fill="#000" stroke="#111" stroke-width="0.9"/>
<rect x="604" y="212.1" width="6.6" height="6.6" fill="#000" stroke="#111" stroke-width="0.9"/>
<rect x="609" y="209.8" width="6.6" height="6.6" fill="#000" stroke="#111" stroke-width="0.9"/>
<rect x="614" y="207.5" width="6.6" height="6.6" fill="#000" stroke="#111" stroke-width="0.9"/>
<rect x="619.1" y="205.2" width="6.6" height="6.6" fill="#000" stroke="#111" stroke-width="0.9"/>
<rect x="624.1" y="201.9" width="6.6" height="6.6" fill="#000" stroke="#111" stroke-width="0.9"/>
<rect x="629.1" y="194.4" width="6.6" height="6.6" fill="#000" stroke="#111" stroke-width="0.9"/>
<rect x="634.1" y="189.7" width="6.6" height="6.6" fill="#000" stroke="#111" stroke-width="0.9"/>
<rect x="639.1" y="184.4" width="6.6" height="6.6" fill="#000" stroke="#111" stroke-width="0.9"/>
<rect x="644.2" y="179.2" width="6.6" height="6.6" fill="#000" stroke="#111" stroke-width="0.9"/>
<rect x="649.2" y="174.1" width="6.6" height="6.6" fill="#000" stroke="#111" stroke-width="0.9"/>
<rect x="654.2" y="170" width="6.6" height="6.6" fill="#000" stroke="#111" stroke-width="0.9"/>
<rect x="659.2" y="165.9" width="6.6" height="6.6" fill="#000" stroke="#111" stroke-width="0.9"/>
<rect x="664.2" y="161.6" width="6.6" height="6.6" fill="#000" stroke="#111" stroke-width="0.9"/>
<rect x="669.3" y="157.6" width="6.6" height="6.6" fill="#000" stroke="#111" stroke-width="0.9"/>
<rect x="674.3" y="153" width="6.6" height="6.6" fill="#000" stroke="#111" stroke-width="0.9"/>
<rect x="679.3" y="148.6" width="6.6" height="6.6" fill="#000" stroke="#111" stroke-width="0.9"/>
<rect x="684.3" y="143.6" width="6.6" height="6.6" fill="#000" stroke="#111" stroke-width="0.9"/>
<rect x="689.3" y="138.6" width="6.6" height="6.6" fill="#000" stroke="#111" stroke-width="0.9"/>
<rect x="694.4" y="131.4" width="6.6" height="6.6" fill="#000" stroke="#111" stroke-width="0.9"/>
<rect x="699.4" y="124.2" width="6.6" height="6.6" fill="#000" stroke="#111" stroke-width="0.9"/>
<rect x="704.4" y="117.7" width="6.6" height="6.6" fill="#000" stroke="#111" stroke-width="0.9"/>
<rect x="709.4" y="111.9" width="6.6" height="6.6" fill="#000" stroke="#111" stroke-width="0.9"/>
<rect x="714.4" y="106.9" width="6.6" height="6.6" fill="#000" stroke="#111" stroke-width="0.9"/>
<rect x="719.5" y="103.3" width="6.6" height="6.6" fill="#000" stroke="#111" stroke-width="0.9"/>
<rect x="724.5" y="100.8" width="6.6" height="6.6" fill="#000" stroke="#111" stroke-width="0.9"/>
<rect x="729.5" y="99" width="6.6" height="6.6" fill="#000" stroke="#111" stroke-width="0.9"/>
<rect x="734.5" y="98" width="6.6" height="6.6" fill="#000" stroke="#111" stroke-width="0.9"/>
<rect x="739.5" y="97.5" width="6.6" height="6.6" fill="#000" stroke="#111" stroke-width="0.9"/>
<rect x="744.6" y="97.5" width="6.6" height="6.6" fill="#000" stroke="#111" stroke-width="0.9"/>
<rect x="749.6" y="97.7" width="6.6" height="6.6" fill="#000" stroke="#111" stroke-width="0.9"/>
<rect x="754.6" y="98" width="6.6" height="6.6" fill="#000" stroke="#111" stroke-width="0.9"/>
<rect x="759.6" y="98" width="6.6" height="6.6" fill="#000" stroke="#111" stroke-width="0.9"/>
<rect x="764.6" y="97.7" width="6.6" height="6.6" fill="#000" stroke="#111" stroke-width="0.9"/>
<rect x="769.7" y="97.5" width="6.6" height="6.6" fill="#000" stroke="#111" stroke-width="0.9"/>
<rect x="774.7" y="97.5" width="6.6" height="6.6" fill="#000" stroke="#111" stroke-width="0.9"/>
<rect x="779.7" y="97.5" width="6.6" height="6.6" fill="#000" stroke="#111" stroke-width="0.9"/>
<rect x="784.7" y="97.5" width="6.6" height="6.6" fill="#000" stroke="#111" stroke-width="0.9"/>
<polyline points="481.8,45.5 486.8,51.3 491.8,63.2 496.9,78.1 501.9,94.5 506.9,112.1 511.9,130.5 516.9,148.1 522,163.5 527,175.8 532,183.8 537,188.8 542,190.7 547.1,189.5 552.1,185.1 557.1,180.6 562.1,177.4 567.1,175.8 572.2,174.4 577.2,174.1 582.2,174.4 587.2,174.8 592.2,175.8 597.3,177.4 602.3,179.2 607.3,180 612.3,177.9 617.3,176.9 622.4,176.4 627.4,176.1 632.4,175.7 637.4,174.3 642.4,172.2 647.5,171.4 652.5,170.7 657.5,167.8 662.5,164 667.5,159.9 672.6,156 677.6,151.9 682.6,147.6 687.6,142.6 692.6,136.8 697.7,131.1 702.7,124.7 707.7,120.4 712.7,116.1 717.7,113.1 722.8,111.2 727.8,109.3 732.8,107.3 737.8,105.6 742.8,104.4 747.9,104.1 752.9,104.4 757.9,105.1 762.9,104.4 767.9,104 773,103.7 778,103.7 783,103.7 788,103.7" fill="none" stroke="#e8141a" stroke-width="1.6" stroke-linejoin="round"/>
<rect x="478.5" y="42.2" width="6.6" height="6.6" fill="#f00d0d" stroke="#111" stroke-width="0.9"/>
<rect x="483.5" y="48" width="6.6" height="6.6" fill="#f00d0d" stroke="#111" stroke-width="0.9"/>
<rect x="488.5" y="59.9" width="6.6" height="6.6" fill="#f00d0d" stroke="#111" stroke-width="0.9"/>
<rect x="493.6" y="74.8" width="6.6" height="6.6" fill="#f00d0d" stroke="#111" stroke-width="0.9"/>
<rect x="498.6" y="91.2" width="6.6" height="6.6" fill="#f00d0d" stroke="#111" stroke-width="0.9"/>
<rect x="503.6" y="108.8" width="6.6" height="6.6" fill="#f00d0d" stroke="#111" stroke-width="0.9"/>
<rect x="508.6" y="127.2" width="6.6" height="6.6" fill="#f00d0d" stroke="#111" stroke-width="0.9"/>
<rect x="513.6" y="144.8" width="6.6" height="6.6" fill="#f00d0d" stroke="#111" stroke-width="0.9"/>
<rect x="518.7" y="160.2" width="6.6" height="6.6" fill="#f00d0d" stroke="#111" stroke-width="0.9"/>
<rect x="523.7" y="172.5" width="6.6" height="6.6" fill="#f00d0d" stroke="#111" stroke-width="0.9"/>
<rect x="528.7" y="180.5" width="6.6" height="6.6" fill="#f00d0d" stroke="#111" stroke-width="0.9"/>
<rect x="533.7" y="185.5" width="6.6" height="6.6" fill="#f00d0d" stroke="#111" stroke-width="0.9"/>
<rect x="538.7" y="187.4" width="6.6" height="6.6" fill="#f00d0d" stroke="#111" stroke-width="0.9"/>
<rect x="543.8" y="186.2" width="6.6" height="6.6" fill="#f00d0d" stroke="#111" stroke-width="0.9"/>
<rect x="548.8" y="181.8" width="6.6" height="6.6" fill="#f00d0d" stroke="#111" stroke-width="0.9"/>
<rect x="553.8" y="177.3" width="6.6" height="6.6" fill="#f00d0d" stroke="#111" stroke-width="0.9"/>
<rect x="558.8" y="174.1" width="6.6" height="6.6" fill="#f00d0d" stroke="#111" stroke-width="0.9"/>
<rect x="563.8" y="172.5" width="6.6" height="6.6" fill="#f00d0d" stroke="#111" stroke-width="0.9"/>
<rect x="568.9" y="171.1" width="6.6" height="6.6" fill="#f00d0d" stroke="#111" stroke-width="0.9"/>
<rect x="573.9" y="170.8" width="6.6" height="6.6" fill="#f00d0d" stroke="#111" stroke-width="0.9"/>
<rect x="578.9" y="171.1" width="6.6" height="6.6" fill="#f00d0d" stroke="#111" stroke-width="0.9"/>
<rect x="583.9" y="171.5" width="6.6" height="6.6" fill="#f00d0d" stroke="#111" stroke-width="0.9"/>
<rect x="588.9" y="172.5" width="6.6" height="6.6" fill="#f00d0d" stroke="#111" stroke-width="0.9"/>
<rect x="594" y="174.1" width="6.6" height="6.6" fill="#f00d0d" stroke="#111" stroke-width="0.9"/>
<rect x="599" y="175.9" width="6.6" height="6.6" fill="#f00d0d" stroke="#111" stroke-width="0.9"/>
<rect x="604" y="176.7" width="6.6" height="6.6" fill="#f00d0d" stroke="#111" stroke-width="0.9"/>
<rect x="609" y="174.6" width="6.6" height="6.6" fill="#f00d0d" stroke="#111" stroke-width="0.9"/>
<rect x="614" y="173.6" width="6.6" height="6.6" fill="#f00d0d" stroke="#111" stroke-width="0.9"/>
<rect x="619.1" y="173.1" width="6.6" height="6.6" fill="#f00d0d" stroke="#111" stroke-width="0.9"/>
<rect x="624.1" y="172.8" width="6.6" height="6.6" fill="#f00d0d" stroke="#111" stroke-width="0.9"/>
<rect x="629.1" y="172.4" width="6.6" height="6.6" fill="#f00d0d" stroke="#111" stroke-width="0.9"/>
<rect x="634.1" y="171" width="6.6" height="6.6" fill="#f00d0d" stroke="#111" stroke-width="0.9"/>
<rect x="639.1" y="168.9" width="6.6" height="6.6" fill="#f00d0d" stroke="#111" stroke-width="0.9"/>
<rect x="644.2" y="168.1" width="6.6" height="6.6" fill="#f00d0d" stroke="#111" stroke-width="0.9"/>
<rect x="649.2" y="167.4" width="6.6" height="6.6" fill="#f00d0d" stroke="#111" stroke-width="0.9"/>
<rect x="654.2" y="164.5" width="6.6" height="6.6" fill="#f00d0d" stroke="#111" stroke-width="0.9"/>
<rect x="659.2" y="160.7" width="6.6" height="6.6" fill="#f00d0d" stroke="#111" stroke-width="0.9"/>
<rect x="664.2" y="156.6" width="6.6" height="6.6" fill="#f00d0d" stroke="#111" stroke-width="0.9"/>
<rect x="669.3" y="152.7" width="6.6" height="6.6" fill="#f00d0d" stroke="#111" stroke-width="0.9"/>
<rect x="674.3" y="148.6" width="6.6" height="6.6" fill="#f00d0d" stroke="#111" stroke-width="0.9"/>
<rect x="679.3" y="144.3" width="6.6" height="6.6" fill="#f00d0d" stroke="#111" stroke-width="0.9"/>
<rect x="684.3" y="139.3" width="6.6" height="6.6" fill="#f00d0d" stroke="#111" stroke-width="0.9"/>
<rect x="689.3" y="133.5" width="6.6" height="6.6" fill="#f00d0d" stroke="#111" stroke-width="0.9"/>
<rect x="694.4" y="127.8" width="6.6" height="6.6" fill="#f00d0d" stroke="#111" stroke-width="0.9"/>
<rect x="699.4" y="121.4" width="6.6" height="6.6" fill="#f00d0d" stroke="#111" stroke-width="0.9"/>
<rect x="704.4" y="117.1" width="6.6" height="6.6" fill="#f00d0d" stroke="#111" stroke-width="0.9"/>
<rect x="709.4" y="112.8" width="6.6" height="6.6" fill="#f00d0d" stroke="#111" stroke-width="0.9"/>
<rect x="714.4" y="109.8" width="6.6" height="6.6" fill="#f00d0d" stroke="#111" stroke-width="0.9"/>
<rect x="719.5" y="107.9" width="6.6" height="6.6" fill="#f00d0d" stroke="#111" stroke-width="0.9"/>
<rect x="724.5" y="106" width="6.6" height="6.6" fill="#f00d0d" stroke="#111" stroke-width="0.9"/>
<rect x="729.5" y="104" width="6.6" height="6.6" fill="#f00d0d" stroke="#111" stroke-width="0.9"/>
<rect x="734.5" y="102.3" width="6.6" height="6.6" fill="#f00d0d" stroke="#111" stroke-width="0.9"/>
<rect x="739.5" y="101.1" width="6.6" height="6.6" fill="#f00d0d" stroke="#111" stroke-width="0.9"/>
<rect x="744.6" y="100.8" width="6.6" height="6.6" fill="#f00d0d" stroke="#111" stroke-width="0.9"/>
<rect x="749.6" y="101.1" width="6.6" height="6.6" fill="#f00d0d" stroke="#111" stroke-width="0.9"/>
<rect x="754.6" y="101.8" width="6.6" height="6.6" fill="#f00d0d" stroke="#111" stroke-width="0.9"/>
<rect x="759.6" y="101.1" width="6.6" height="6.6" fill="#f00d0d" stroke="#111" stroke-width="0.9"/>
<rect x="764.6" y="100.7" width="6.6" height="6.6" fill="#f00d0d" stroke="#111" stroke-width="0.9"/>
<rect x="769.7" y="100.4" width="6.6" height="6.6" fill="#f00d0d" stroke="#111" stroke-width="0.9"/>
<rect x="774.7" y="100.4" width="6.6" height="6.6" fill="#f00d0d" stroke="#111" stroke-width="0.9"/>
<rect x="779.7" y="100.4" width="6.6" height="6.6" fill="#f00d0d" stroke="#111" stroke-width="0.9"/>
<rect x="784.7" y="100.4" width="6.6" height="6.6" fill="#f00d0d" stroke="#111" stroke-width="0.9"/>
<polyline points="481.8,53.4 486.8,71.3 491.8,92.9 496.9,119 501.9,148.1 506.9,176.9 511.9,206.7 516.9,231.9 522,252.7 527,262.1 532,261.4 537,250.7 542,235.2 547.1,217.7 552.1,202.2 557.1,191.5 562.1,187.9 567.1,188.8 572.2,190.8 577.2,192.8 582.2,194.1 587.2,194.4 592.2,194.1 597.3,192.3 602.3,188.8 607.3,185.1 612.3,182.5 617.3,181.5 622.4,181.2 627.4,181.2 632.4,180.7 637.4,179.3 642.4,177.4 647.5,173.5 652.5,169.2 657.5,164.5 662.5,159.6 667.5,155.1 672.6,150.8 677.6,146.5 682.6,142.4 687.6,137.1 692.6,131.1 697.7,124.1 702.7,118 707.7,113.1 712.7,108.6 717.7,105.6 722.8,104.3 727.8,104.9 732.8,106.9 737.8,108 742.8,108.5 747.9,108.5 752.9,107.4 757.9,106.1 762.9,104.9 767.9,103.7 773,103.4 778,103.4 783,103.4 788,103" fill="none" stroke="#1010e0" stroke-width="1.6" stroke-linejoin="round"/>
<rect x="478.5" y="50.1" width="6.6" height="6.6" fill="#0a0aff" stroke="#111" stroke-width="0.9"/>
<rect x="483.5" y="68" width="6.6" height="6.6" fill="#0a0aff" stroke="#111" stroke-width="0.9"/>
<rect x="488.5" y="89.6" width="6.6" height="6.6" fill="#0a0aff" stroke="#111" stroke-width="0.9"/>
<rect x="493.6" y="115.7" width="6.6" height="6.6" fill="#0a0aff" stroke="#111" stroke-width="0.9"/>
<rect x="498.6" y="144.8" width="6.6" height="6.6" fill="#0a0aff" stroke="#111" stroke-width="0.9"/>
<rect x="503.6" y="173.6" width="6.6" height="6.6" fill="#0a0aff" stroke="#111" stroke-width="0.9"/>
<rect x="508.6" y="203.4" width="6.6" height="6.6" fill="#0a0aff" stroke="#111" stroke-width="0.9"/>
<rect x="513.6" y="228.6" width="6.6" height="6.6" fill="#0a0aff" stroke="#111" stroke-width="0.9"/>
<rect x="518.7" y="249.4" width="6.6" height="6.6" fill="#0a0aff" stroke="#111" stroke-width="0.9"/>
<rect x="523.7" y="258.8" width="6.6" height="6.6" fill="#0a0aff" stroke="#111" stroke-width="0.9"/>
<rect x="528.7" y="258.1" width="6.6" height="6.6" fill="#0a0aff" stroke="#111" stroke-width="0.9"/>
<rect x="533.7" y="247.4" width="6.6" height="6.6" fill="#0a0aff" stroke="#111" stroke-width="0.9"/>
<rect x="538.7" y="231.9" width="6.6" height="6.6" fill="#0a0aff" stroke="#111" stroke-width="0.9"/>
<rect x="543.8" y="214.4" width="6.6" height="6.6" fill="#0a0aff" stroke="#111" stroke-width="0.9"/>
<rect x="548.8" y="198.9" width="6.6" height="6.6" fill="#0a0aff" stroke="#111" stroke-width="0.9"/>
<rect x="553.8" y="188.2" width="6.6" height="6.6" fill="#0a0aff" stroke="#111" stroke-width="0.9"/>
<rect x="558.8" y="184.6" width="6.6" height="6.6" fill="#0a0aff" stroke="#111" stroke-width="0.9"/>
<rect x="563.8" y="185.5" width="6.6" height="6.6" fill="#0a0aff" stroke="#111" stroke-width="0.9"/>
<rect x="568.9" y="187.5" width="6.6" height="6.6" fill="#0a0aff" stroke="#111" stroke-width="0.9"/>
<rect x="573.9" y="189.5" width="6.6" height="6.6" fill="#0a0aff" stroke="#111" stroke-width="0.9"/>
<rect x="578.9" y="190.8" width="6.6" height="6.6" fill="#0a0aff" stroke="#111" stroke-width="0.9"/>
<rect x="583.9" y="191.1" width="6.6" height="6.6" fill="#0a0aff" stroke="#111" stroke-width="0.9"/>
<rect x="588.9" y="190.8" width="6.6" height="6.6" fill="#0a0aff" stroke="#111" stroke-width="0.9"/>
<rect x="594" y="189" width="6.6" height="6.6" fill="#0a0aff" stroke="#111" stroke-width="0.9"/>
<rect x="599" y="185.5" width="6.6" height="6.6" fill="#0a0aff" stroke="#111" stroke-width="0.9"/>
<rect x="604" y="181.8" width="6.6" height="6.6" fill="#0a0aff" stroke="#111" stroke-width="0.9"/>
<rect x="609" y="179.2" width="6.6" height="6.6" fill="#0a0aff" stroke="#111" stroke-width="0.9"/>
<rect x="614" y="178.2" width="6.6" height="6.6" fill="#0a0aff" stroke="#111" stroke-width="0.9"/>
<rect x="619.1" y="177.9" width="6.6" height="6.6" fill="#0a0aff" stroke="#111" stroke-width="0.9"/>
<rect x="624.1" y="177.9" width="6.6" height="6.6" fill="#0a0aff" stroke="#111" stroke-width="0.9"/>
<rect x="629.1" y="177.4" width="6.6" height="6.6" fill="#0a0aff" stroke="#111" stroke-width="0.9"/>
<rect x="634.1" y="176" width="6.6" height="6.6" fill="#0a0aff" stroke="#111" stroke-width="0.9"/>
<rect x="639.1" y="174.1" width="6.6" height="6.6" fill="#0a0aff" stroke="#111" stroke-width="0.9"/>
<rect x="644.2" y="170.2" width="6.6" height="6.6" fill="#0a0aff" stroke="#111" stroke-width="0.9"/>
<rect x="649.2" y="165.9" width="6.6" height="6.6" fill="#0a0aff" stroke="#111" stroke-width="0.9"/>
<rect x="654.2" y="161.2" width="6.6" height="6.6" fill="#0a0aff" stroke="#111" stroke-width="0.9"/>
<rect x="659.2" y="156.3" width="6.6" height="6.6" fill="#0a0aff" stroke="#111" stroke-width="0.9"/>
<rect x="664.2" y="151.8" width="6.6" height="6.6" fill="#0a0aff" stroke="#111" stroke-width="0.9"/>
<rect x="669.3" y="147.5" width="6.6" height="6.6" fill="#0a0aff" stroke="#111" stroke-width="0.9"/>
<rect x="674.3" y="143.2" width="6.6" height="6.6" fill="#0a0aff" stroke="#111" stroke-width="0.9"/>
<rect x="679.3" y="139.1" width="6.6" height="6.6" fill="#0a0aff" stroke="#111" stroke-width="0.9"/>
<rect x="684.3" y="133.8" width="6.6" height="6.6" fill="#0a0aff" stroke="#111" stroke-width="0.9"/>
<rect x="689.3" y="127.8" width="6.6" height="6.6" fill="#0a0aff" stroke="#111" stroke-width="0.9"/>
<rect x="694.4" y="120.8" width="6.6" height="6.6" fill="#0a0aff" stroke="#111" stroke-width="0.9"/>
<rect x="699.4" y="114.7" width="6.6" height="6.6" fill="#0a0aff" stroke="#111" stroke-width="0.9"/>
<rect x="704.4" y="109.8" width="6.6" height="6.6" fill="#0a0aff" stroke="#111" stroke-width="0.9"/>
<rect x="709.4" y="105.3" width="6.6" height="6.6" fill="#0a0aff" stroke="#111" stroke-width="0.9"/>
<rect x="714.4" y="102.3" width="6.6" height="6.6" fill="#0a0aff" stroke="#111" stroke-width="0.9"/>
<rect x="719.5" y="101" width="6.6" height="6.6" fill="#0a0aff" stroke="#111" stroke-width="0.9"/>
<rect x="724.5" y="101.6" width="6.6" height="6.6" fill="#0a0aff" stroke="#111" stroke-width="0.9"/>
<rect x="729.5" y="103.6" width="6.6" height="6.6" fill="#0a0aff" stroke="#111" stroke-width="0.9"/>
<rect x="734.5" y="104.7" width="6.6" height="6.6" fill="#0a0aff" stroke="#111" stroke-width="0.9"/>
<rect x="739.5" y="105.2" width="6.6" height="6.6" fill="#0a0aff" stroke="#111" stroke-width="0.9"/>
<rect x="744.6" y="105.2" width="6.6" height="6.6" fill="#0a0aff" stroke="#111" stroke-width="0.9"/>
<rect x="749.6" y="104.1" width="6.6" height="6.6" fill="#0a0aff" stroke="#111" stroke-width="0.9"/>
<rect x="754.6" y="102.8" width="6.6" height="6.6" fill="#0a0aff" stroke="#111" stroke-width="0.9"/>
<rect x="759.6" y="101.6" width="6.6" height="6.6" fill="#0a0aff" stroke="#111" stroke-width="0.9"/>
<rect x="764.6" y="100.4" width="6.6" height="6.6" fill="#0a0aff" stroke="#111" stroke-width="0.9"/>
<rect x="769.7" y="100.1" width="6.6" height="6.6" fill="#0a0aff" stroke="#111" stroke-width="0.9"/>
<rect x="774.7" y="100.1" width="6.6" height="6.6" fill="#0a0aff" stroke="#111" stroke-width="0.9"/>
<rect x="779.7" y="100.1" width="6.6" height="6.6" fill="#0a0aff" stroke="#111" stroke-width="0.9"/>
<rect x="784.7" y="99.7" width="6.6" height="6.6" fill="#0a0aff" stroke="#111" stroke-width="0.9"/>
</g>
<rect x="481.7" y="28.4" width="302.90000000000003" height="302.20000000000005" fill="none" stroke="#000" stroke-width="2"/>
<line x1="477" x2="482" y1="28.1" y2="28.1" stroke="#000" stroke-width="1.2"/>
<text x="471" y="34.4" font-size="16.5" text-anchor="end">5</text>
<line x1="477" x2="482" y1="100.1" y2="100.1" stroke="#000" stroke-width="1.2"/>
<text x="471" y="106.4" font-size="16.5" text-anchor="end">0</text>
<line x1="477" x2="482" y1="172.1" y2="172.1" stroke="#000" stroke-width="1.2"/>
<text x="471" y="178.4" font-size="16.5" text-anchor="end">−5</text>
<line x1="477" x2="482" y1="244.1" y2="244.1" stroke="#000" stroke-width="1.2"/>
<text x="471" y="250.4" font-size="16.5" text-anchor="end">−10</text>
<line x1="477" x2="482" y1="316.1" y2="316.1" stroke="#000" stroke-width="1.2"/>
<text x="471" y="322.4" font-size="16.5" text-anchor="end">−15</text>
<line x1="506.9" x2="506.9" y1="330.6" y2="335.5" stroke="#000" stroke-width="1.2"/>
<text x="506.9" y="353.8" font-size="16.5" text-anchor="middle">195</text>
<line x1="582.2" x2="582.2" y1="330.6" y2="335.5" stroke="#000" stroke-width="1.2"/>
<text x="582.2" y="353.8" font-size="16.5" text-anchor="middle">210</text>
<line x1="657.5" x2="657.5" y1="330.6" y2="335.5" stroke="#000" stroke-width="1.2"/>
<text x="657.5" y="353.8" font-size="16.5" text-anchor="middle">225</text>
<line x1="732.8" x2="732.8" y1="330.6" y2="335.5" stroke="#000" stroke-width="1.2"/>
<text x="732.8" y="353.8" font-size="16.5" text-anchor="middle">240</text>
<text x="632.3" y="377.7" font-size="16.2" text-anchor="middle">Wavelength (nm)</text>
<text transform="translate(434.5,181) rotate(-90)" font-size="16.5" text-anchor="middle">mdeg</text>
<line x1="518.4" x2="549.3" y1="44.7" y2="44.7" stroke="#000" stroke-width="1.8"/>
<rect x="530.1" y="41" width="7.4" height="7.4" fill="#000" stroke="#111" stroke-width="0.9"/>
<text x="556" y="49.6" font-size="13.95">15 <tspan style="font-family:'Liberation Serif',serif">μ</tspan>M FGB1</text>
<line x1="518.4" x2="549.3" y1="62.8" y2="62.8" stroke="#e8141a" stroke-width="1.8"/>
<rect x="530.1" y="59.1" width="7.4" height="7.4" fill="#f00d0d" stroke="#111" stroke-width="0.9"/>
<text x="556" y="67.7" font-size="13.95">15 <tspan style="font-family:'Liberation Serif',serif">μ</tspan>M FGB1 vs 100 <tspan style="font-family:'Liberation Serif',serif">μ</tspan>M laminarin</text>
<line x1="518.4" x2="549.3" y1="80.8" y2="80.8" stroke="#1010e0" stroke-width="1.8"/>
<rect x="530.1" y="77.1" width="7.4" height="7.4" fill="#0a0aff" stroke="#111" stroke-width="0.9"/>
<text x="556" y="85.7" font-size="13.95">15 <tspan style="font-family:'Liberation Serif',serif">μ</tspan>M FGB1 vs 1 mM Glc-<tspan style="font-family:'Liberation Serif',serif">β</tspan>1,6-Glc</text>
</svg></body></html>
